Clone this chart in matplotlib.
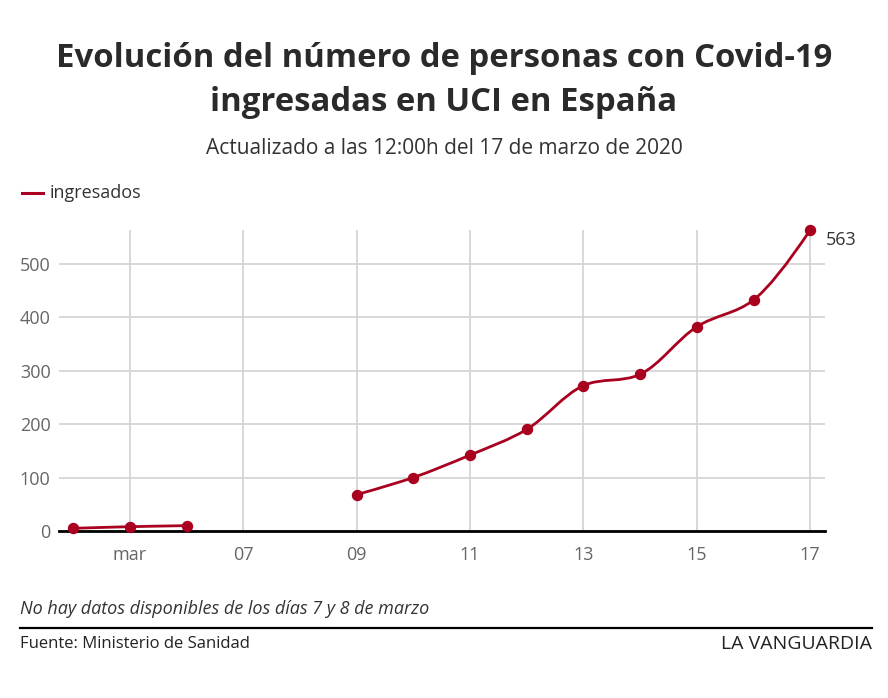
import numpy as np
import matplotlib
matplotlib.use("Agg")
import matplotlib.pyplot as plt
from matplotlib.path import Path
from matplotlib.patches import PathPatch

plt.rcParams['font.family'] = ['Open Sans', 'DejaVu Sans']

# Data: day of March 2020 and ICU admissions (no data for 7 and 8 March)
days_a = [4, 5, 6]
icu_a = [5, 8, 10]
days_b = [9, 10, 11, 12, 13, 14, 15, 16, 17]
icu_b = [68, 100, 142, 190, 272, 293, 382, 432, 563]

tick_days = [5, 7, 9, 11, 13, 15, 17]
tick_labels = ['mar', '07', '09', '11', '13', '15', '17']
y_ticks = [0, 100, 200, 300, 400, 500]

red = '#a8001e'
grey_text = '#666666'


def make_tangent(prev, this, nxt, smoothness=1.0):
    # same rule as plotly's spline smoothing (catmull-rom, exp 0.5)
    d1 = prev - this
    d2 = nxt - this
    d1a = np.hypot(*d1) ** 0.5
    d2a = np.hypot(*d2) ** 0.5
    num = (d2a * d2a * d1 - d1a * d1a * d2) * smoothness
    den1 = 3 * d2a * (d1a + d2a)
    den2 = 3 * d1a * (d1a + d2a)
    return this + num / den1, this - num / den2


def spline_patch(ax, xs, ys, color, lw):
    pts = ax.transData.transform(np.column_stack([xs, ys]))
    tangents = [make_tangent(pts[i - 1], pts[i], pts[i + 1]) for i in range(1, len(pts) - 1)]
    verts = [pts[0], tangents[0][0], pts[1]]
    codes = [Path.MOVETO, Path.CURVE3, Path.CURVE3]
    for i in range(2, len(pts) - 1):
        verts += [tangents[i - 2][1], tangents[i - 1][0], pts[i]]
        codes += [Path.CURVE4] * 3
    verts += [tangents[-1][1], pts[-1]]
    codes += [Path.CURVE3] * 2
    verts = ax.transData.inverted().transform(np.array(verts))
    patch = PathPatch(Path(verts, codes), facecolor='none', edgecolor=color,
                      lw=lw, capstyle='round', joinstyle='round', zorder=3)
    ax.add_patch(patch)


fig = plt.figure(figsize=(8.88, 6.98), dpi=100)
ax = fig.add_axes([0.0664, 0.2393, 0.8626, 0.4312])

ax.set_xlim(3.75, 17.26)
ax.set_ylim(0, 563)

ax.set_xticks(tick_days)
ax.set_xticklabels(tick_labels)
ax.set_yticks(y_ticks)
ax.tick_params(axis='both', length=0, labelsize=13, colors=grey_text)
ax.tick_params(axis='x', pad=11)
ax.tick_params(axis='y', pad=6)
ax.grid(True, color='#d2d2d2', linewidth=1.2)
ax.set_axisbelow(True)
for side in ['top', 'right', 'left']:
    ax.spines[side].set_visible(False)
ax.spines['bottom'].set_color('black')
ax.spines['bottom'].set_linewidth(2)
ax.spines['bottom'].set_zorder(2)

fig.canvas.draw()
spline_patch(ax, days_a, icu_a, red, 2.0)
spline_patch(ax, days_b, icu_b, red, 2.0)
ax.plot(days_a + days_b, icu_a + icu_b, 'o', color=red, markersize=7.2,
        zorder=4, clip_on=False)

ax.annotate(str(icu_b[-1]), (days_b[-1], icu_b[-1]), xytext=(11, -7),
            textcoords='offset points', fontsize=13, color='#333333',
            va='center', ha='left')

# titles
fig.text(0.5, 0.916, 'Evolución del número de personas con Covid-19',
         ha='center', va='center', fontsize=23.7, fontweight='bold', color='#2a2a2a')
fig.text(0.5, 0.853, 'ingresadas en UCI en España',
         ha='center', va='center', fontsize=23.7, fontweight='bold', color='#2a2a2a')
fig.text(0.5, 0.787, 'Actualizado a las 12:00h del 17 de marzo de 2020',
         ha='center', va='center', fontsize=15, color='#333333')

# legend
fig.lines.append(plt.Line2D([0.025, 0.048], [0.723, 0.723], color=red, lw=2.2,
                            transform=fig.transFigure))
fig.text(0.056, 0.723, 'ingresados', ha='left', va='center', fontsize=13,
         color='#333333')

# footer
fig.text(0.023, 0.128, 'No hay datos disponibles de los días 7 y 8 de marzo',
         ha='left', va='center', fontsize=13, style='italic', color='#333333')
fig.lines.append(plt.Line2D([0.023, 0.982], [0.1, 0.1], color='black', lw=1.6,
                            transform=fig.transFigure))
fig.text(0.023, 0.078, 'Fuente: Ministerio de Sanidad', ha='left', va='center',
         fontsize=12, color='#222222')
fig.text(0.982, 0.078, 'LA VANGUARDIA', ha='right', va='center',
         fontsize=14, color='#222222')

fig.savefig('out.png', dpi=100, facecolor='white')
